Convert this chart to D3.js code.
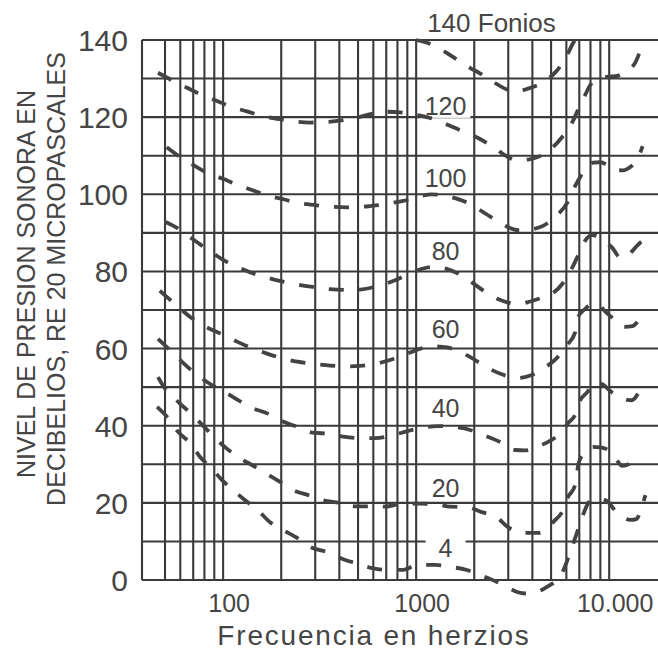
<!DOCTYPE html>
<html>
<head>
<meta charset="utf-8">
<script src="https://cdn.jsdelivr.net/npm/d3@7"></script>
<style>
  body { margin: 0; background: #fff; }
  text { font-family: "Liberation Sans", Arial, sans-serif; fill: #454545; }
</style>
</head>
<body>
<script>

// equal-loudness curves, [frequency Hz, level dB]
var phons = [140, 120, 100, 80, 60, 40, 20, 4];

var curve140 = [[1000,140],[1250,138.5],[1550,135.6],[1900,132.8],[2150,131.3],[2500,129.2],[2950,127.2],
  [3300,126.7],[3800,127.4],[4300,128.4],[4800,129.8],[5300,131.8],[5700,133.8],[6100,136.4],[6500,139.2],[6700,140]];

var curve120 = [[46,131.5],[56,129.2],[65,127.6],[78,125.7],[93,124.2],[111,122.6],[133,121.5],[159,120.3],
  [195,119.5],[231,118.9],[282,118.6],[337,118.7],[418,119.2],[494,119.9],[612,121],[714,121.4],[899,121],
  [1050,120.4],[1285,119.2],[1475,117.9],[1830,115.9],[2094,114.6],[2500,112.3],[2958,109.8],[3300,108.8],
  [3800,109],[4227,109.6],[4700,110.7],[5057,112],[5697,114.8],[6100,116.8],[6425,118.6],[7000,122.6],
  [7512,125.8],[8000,128.4],[8467,129.6],[9200,130.2],[9895,130.5],[10800,130.6],[11842,131.4],[12800,132.5],
  [13670,134.2],[14400,137],[14900,139.5]];

var curve100 = [[51,112.2],[59.8,109.7],[70,107.6],[82.6,105.6],[100,104],[118,102.5],[141,101.1],[169,99.7],
  [202,98.8],[242,97.8],[300,97.2],[358,96.8],[440,96.6],[512,96.7],[634,97.2],[760,97.8],[931,98.7],
  [1075,99.6],[1200,100],[1363,99.8],[1591,99],[1949,97.2],[2221,95.4],[2689,92.8],[2958,91.6],[3400,90.7],
  [3889,90.9],[4542,91.8],[5367,94.6],[6050,97.7],[6503,101.1],[7074,104.5],[7700,107.3],[8265,108.2],
  [9000,108.3],[9776,107.6],[10800,106.3],[11842,106.2],[12800,107],[13670,108.4],[14400,110.5],[14900,112.5]];

var curve80 = [[50,92.9],[57.7,91.3],[66,89.2],[78,86.6],[90,84.5],[100,83],[118,81.2],[141,79.6],[169,78.4],
  [202,77.4],[242,76.6],[300,75.9],[358,75.4],[440,75.2],[512,75.3],[634,76.2],[760,77.5],[931,79.5],
  [1075,80.7],[1250,81.2],[1450,80.6],[1700,79.1],[1950,77.1],[2220,75.1],[2690,72.7],[3000,71.9],[3400,71.5],
  [3900,72.2],[4500,73.2],[5057,74.2],[5766,77],[6425,80.9],[7000,84.8],[7512,88],[8167,89.4],[8882,88.8],
  [9600,87.6],[10383,86.1],[11422,83.6],[12300,83.8],[13343,85.6],[14500,87.5],[15780,88.8],[16350,89.6]];

var curve60 = [[47,75],[50,73.8],[58,71],[66,68.6],[78,66.1],[90,64.6],[100,63.6],[118,61.8],[141,60.1],
  [169,58.7],[202,57.5],[242,56.6],[300,56],[358,55.6],[440,55.4],[512,55.5],[634,56.2],[760,57.3],[931,59],
  [1075,60.1],[1250,60.6],[1450,60.3],[1700,59.1],[1950,57.5],[2220,55.7],[2690,53.6],[3000,52.8],[3400,52.4],
  [3900,53],[4300,54],[4652,55.1],[5367,57.6],[6050,60.9],[6662,64.2],[6906,68.2],[7400,70],[7973,71.3],
  [8671,71.6],[9544,69.6],[11022,66.9],[12000,65.6],[13200,65.8],[14512,68.2],[15000,69.5]];

var curve40 = [[46,62.5],[50,60.8],[60,57],[70,54],[80,51.8],[90,50.2],[100,49],[119,46.7],[137,44.9],
  [169,43.2],[204,41.1],[242,39.7],[289,38.2],[358,37.9],[418,37.2],[512,36.8],[612,36.8],[750,37.5],
  [900,38.6],[1049,39.4],[1300,39.9],[1554,39.7],[1903,38.9],[2221,37.6],[2721,35.8],[3250,33.7],[3664,33.6],
  [4100,34.2],[4464,35],[5240,36.9],[5700,38.4],[6121,40.7],[6662,42.8],[6906,45.4],[7694,48.7],[8467,51.1],
  [8990,51],[10383,48.6],[11500,47.3],[12427,46.7],[13000,46.6],[14180,48.7],[14512,51.9]];

var curve20 = [[46,52.6],[50,49.6],[59,46],[69,42.9],[78,40.2],[89,37.3],[102,34.5],[119,31.9],[141,29.8],
  [165,27.8],[198,25.4],[231,23.3],[276,22],[330,20.7],[403,20],[483,19.1],[591,19.1],[691,19],[854,19.8],
  [1024,19.8],[1254,19.7],[1499,19],[1830,18.9],[2190,17.6],[2626,16.2],[2990,13.7],[3577,12.2],[4277,12.2],
  [4800,13.4],[5120,15],[5766,18.1],[6121,21.5],[6650,24.5],[6950,30.3],[7512,33.2],[8167,34.5],[8990,34.4],
  [10383,32.9],[11700,29.6],[12600,30],[14003,32.4]];

var curve4 = [[45.5,44.9],[51.9,42],[58.5,38.4],[67.5,35.5],[76,31.9],[85.6,29.3],[98.8,25.9],[112.6,23.3],
  [130,20.7],[151,18.1],[175,15],[204,13],[242,10.9],[282,8.6],[358,7],[403,5.7],[483,4.4],[591,3.1],
  [706,2.6],[846,2.6],[1024,3.9],[1254,3.9],[1499,3.4],[1830,2.6],[2144,1.3],[2626,-0.5],[3000,-2],
  [3332,-3.1],[3700,-3.5],[4227,-3.1],[4937,-1.3],[5400,0],[5697,1.8],[6425,8.6],[6824,12.4],[7246,16.3],
  [7973,20.5],[8700,21],[9544,20.7],[11022,17.4],[12877,15.6],[13800,15.8],[14866,19.4],[15403,22]];

var curves = [curve140, curve120, curve100, curve80, curve60, curve40, curve20, curve4];

var gridFreqs = [50, 60, 70, 80, 90, 100, 200, 300, 400, 500, 600, 700, 800, 900,
                 1000, 2000, 3000, 4000, 5000, 6000, 7000, 8000, 9000, 10000];
var levelGrid = d3.range(0, 141, 10);
var levelTicks = [0, 20, 40, 60, 80, 100, 120, 140];
var freqTicks = [100, 1000, 10000];
var freqTickLabels = ["100", "1000", "10.000"];

var w = 658;
var h = 657;

var x = d3.scaleLog().domain([38, 17900]).range([142, 658]);
var y = d3.scaleLinear().domain([0, 140]).range([580, 40]);

var svg = d3.select("body").append("svg")
    .attr("width", w)
    .attr("height", h)
    .style("background", "#fff");

var grid = svg.append("g")
    .style("stroke", "#3a3a3a")
    .style("stroke-width", 2.1);

grid.selectAll("line.h")
    .data(levelGrid)
    .enter().append("line")
    .attr("class", "h")
    .attr("x1", x(38)).attr("x2", w + 2)
    .attr("y1", function(d) { return y(d); })
    .attr("y2", function(d) { return y(d); });

grid.selectAll("line.v")
    .data([38].concat(gridFreqs))
    .enter().append("line")
    .attr("class", "v")
    .attr("x1", function(d) { return x(d); })
    .attr("x2", function(d) { return x(d); })
    .attr("y1", y(140)).attr("y2", y(0));

// level of a curve at f (linear in log f)
function levelAt(c, f) {
  for (var i = 1; i < c.length; i++) {
    if (c[i][0] >= f) {
      var t = (Math.log(f) - Math.log(c[i-1][0])) / (Math.log(c[i][0]) - Math.log(c[i-1][0]));
      return c[i-1][1] + t * (c[i][1] - c[i-1][1]);
    }
  }
  return c[c.length-1][1];
}

var labelF = 1420;
var labelData = phons.slice(1).map(function(p, i) {
  return { text: String(p), level: levelAt(curves[i+1], labelF) };
});

var bgLayer = svg.append("g");

var line = d3.line()
    .x(function(d) { return x(d[0]); })
    .y(function(d) { return y(d[1]); })
    .curve(d3.curveMonotoneX);

svg.append("g").selectAll("path")
    .data(curves)
    .enter().append("path")
    .attr("d", line)
    .style("fill", "none")
    .style("stroke", "#434343")
    .style("stroke-width", 3.8)
    .style("stroke-dasharray", "15 15");

var labels = svg.append("g").selectAll("text")
    .data(labelData)
    .enter().append("text")
    .attr("x", x(labelF))
    .attr("y", function(d) { return y(d.level) - 9; })
    .attr("text-anchor", "middle")
    .style("font-size", "25px")
    .text(function(d) { return d.text; });

labels.each(function() {
  var b = this.getBBox();
  var bw = Math.max(b.width + 8, 40);
  bgLayer.append("rect")
    .attr("x", b.x + b.width / 2 - bw / 2)
    .attr("y", b.y + 2)
    .attr("width", bw)
    .attr("height", b.height - 4)
    .style("fill", "#fff");
});

svg.append("text")
    .attr("x", x(1000) + 11)
    .attr("y", y(140) - 8)
    .style("font-size", "26px")
    .text(phons[0] + " Fonios");

// axes labels
svg.append("g").selectAll("text")
    .data(levelTicks)
    .enter().append("text")
    .attr("x", 128)
    .attr("y", function(d) { return y(d) + 11; })
    .attr("text-anchor", "end")
    .style("font-size", "30px")
    .text(function(d) { return d; });

svg.append("g").selectAll("text")
    .data(freqTicks)
    .enter().append("text")
    .attr("x", function(d) { return x(d) + 6; })
    .attr("y", 612)
    .attr("text-anchor", "middle")
    .style("font-size", "25px")
    .text(function(d, i) { return freqTickLabels[i]; });

svg.append("text")
    .attr("x", 374)
    .attr("y", 645)
    .attr("text-anchor", "middle")
    .style("font-size", "28px")
    .style("letter-spacing", "1.8px")
    .text("Frecuencia en herzios");

svg.append("text")
    .attr("transform", "translate(35,284) rotate(-90)")
    .attr("text-anchor", "middle")
    .style("font-size", "25px")
    .text("NIVEL DE PRESION SONORA EN");

svg.append("text")
    .attr("transform", "translate(65,279) rotate(-90)")
    .attr("text-anchor", "middle")
    .style("font-size", "25px")
    .text("DECIBELIOS, RE 20 MICROPASCALES");

</script>
</body>
</html>
